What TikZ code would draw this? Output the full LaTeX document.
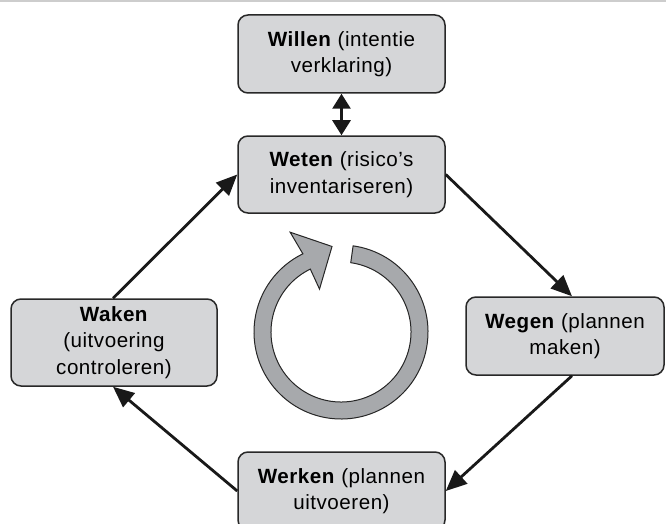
\documentclass[tikz,border=0pt]{standalone}
\usepackage{fontspec}
\newfontfamily\diagfont{Liberation Sans}[LetterSpace=2.5]
\usetikzlibrary{arrows.meta,calc}
\definecolor{boxfill}{RGB}{213,214,216}
\definecolor{boxline}{RGB}{40,40,40}
\definecolor{cycfill}{RGB}{167,169,172}
\definecolor{topline}{RGB}{205,205,205}
\tikzset{
  stage/.style={draw=boxline, fill=boxfill, line width=1.5pt, rounded corners=10pt,
    inner sep=0pt, align=center, font=\diagfont\fontsize{20.6}{26.5}\selectfont},
  flow/.style={draw=black!90, line width=2.8pt, -{Triangle[length=21pt,width=18pt]}},
  both/.style={draw=black!90, line width=2.8pt,
    {Triangle[length=15pt,width=18pt]}-{Triangle[length=15pt,width=18pt]}},
}
\begin{document}
\begin{tikzpicture}[x=1pt,y=1pt]
\useasboundingbox (0,0) rectangle (666,-524);
\draw[topline, line width=1.6pt] (0,-0.8) -- (666,-0.8);

\node[stage, minimum width=207pt, minimum height=78pt] (willen) at (341.5,-54)
  {\textbf{Willen} (intentie\\verklaring)};
\node[stage, minimum width=207pt, minimum height=77pt] (weten) at (341.5,-174.5)
  {\textbf{Weten} (risico’s\\inventariseren)};
\node[stage, minimum width=198pt, minimum height=78pt] (wegen) at (565,-336)
  {\textbf{Wegen} (plannen\\maken)};
\node[stage, minimum width=206pt, minimum height=87pt] (waken) at (114,-342.5)
  {\textbf{Waken}\\(uitvoering\\controleren)};
\node[stage, minimum width=207pt, minimum height=78pt] (werken) at (341.5,-491)
  {\textbf{Werken} (plannen\\uitvoeren)};

\draw[both] (willen.south) -- (weten.north);
\draw[flow] (weten.east) -- ([xshift=7pt]wegen.north);
\draw[flow] ([xshift=7pt]wegen.south) -- (werken.east);
\draw[flow] (werken.west) -- ([xshift=-1pt]waken.south);
\draw[flow] ([xshift=-1pt]waken.north) -- (weten.west);

\coordinate (c) at (341,-332);
\filldraw[fill=cycfill, draw=black!85, line width=1pt, line join=miter]
  ($(c)+(82:87)$) arc[start angle=82, end angle=-244, radius=87]
  -- ($(c)+(117:112)$) -- ($(c)+(96:86)$) -- ($(c)+(116.6:48)$)
  -- ($(c)+(-244:70)$) arc[start angle=-244, end angle=82, radius=70] -- cycle;
\end{tikzpicture}
\end{document}
